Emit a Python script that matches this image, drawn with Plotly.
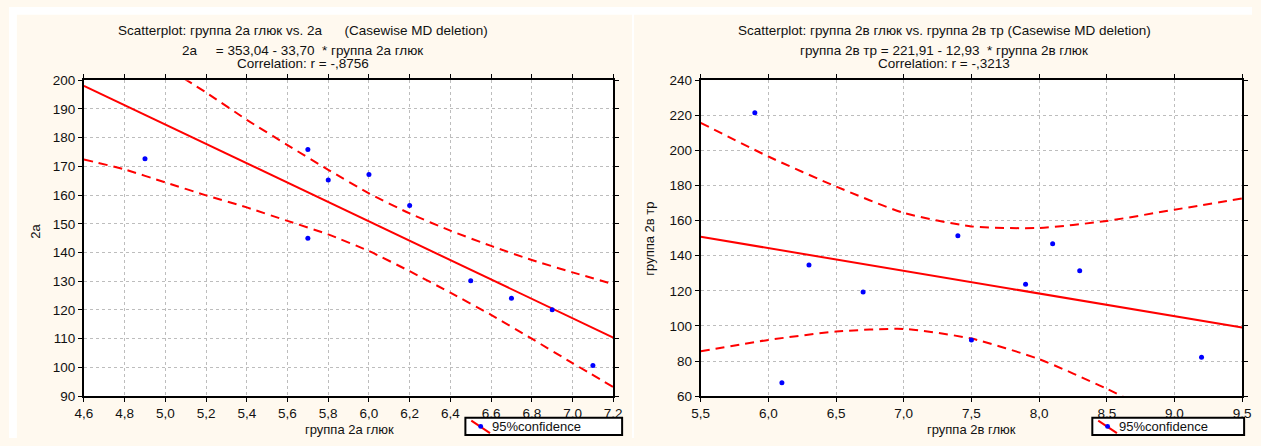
import plotly.graph_objects as go

# ---------------- data ----------------
left_x = [4.9, 5.7, 5.7, 5.8, 6.0, 6.2, 6.5, 6.7, 6.9, 7.1]
left_y = [172.6, 175.9, 145.0, 165.2, 167.2, 156.4, 130.2, 124.1, 120.1, 100.7]
left_intercept, left_slope = 353.04, -33.70
left_band_x = [4.6, 4.8, 5.0, 5.2, 5.4, 5.6, 5.8, 6.0, 6.2, 6.4, 6.6, 6.8, 7.0, 7.2]
left_upper = [223.6, 213.8, 204.7, 195.7, 186.2, 177.4, 168.8, 160.6, 153.6, 147.6, 142.3, 137.4, 133.1, 129.0]
left_lower = [172.4, 168.9, 164.4, 159.9, 155.7, 151.0, 146.3, 140.5, 133.5, 126.0, 118.3, 110.0, 101.5, 93.2]

right_x = [5.9, 6.1, 6.3, 6.7, 7.4, 7.5, 7.9, 8.1, 8.3, 9.2]
right_y = [221.5, 67.7, 134.7, 119.3, 151.4, 92.0, 123.7, 146.8, 131.4, 82.1]
right_intercept, right_slope = 221.91, -12.93
right_band_x = [5.5, 6.0, 6.5, 7.0, 7.5, 8.0, 8.5, 9.0, 9.5]
right_upper = [215.7, 196.5, 179.4, 164.4, 156.7, 155.8, 159.8, 166.2, 172.6]
right_lower = [85.6, 92.0, 96.8, 98.3, 92.8, 81.1, 64.2, 44.8, 25.6]

left_xrange = [4.6, 7.2]
left_yrange = [90, 200]
right_xrange = [5.5, 9.5]
right_yrange = [60, 240]

left_titles = ["Scatterplot: группа 2а глюк vs. 2а      (Casewise MD deletion)",
               "2а     = 353,04 - 33,70  * группа 2а глюк",
               "Correlation: r = -,8756"]
right_titles = ["Scatterplot: группа 2в глюк vs. группа 2в тр (Casewise MD deletion)",
                "группа 2в тр = 221,91 - 12,93  * группа 2в глюк",
                "Correlation: r = -,3213"]
left_xlabel, left_ylabel = "группа 2а глюк", "2а"
right_xlabel, right_ylabel = "группа 2в глюк", "группа 2в тр"
legend_text = "95%confidence"

# ---------------- layout helpers ----------------
W, H = 1261, 446
def px(x):
    return x / W
def py(y):
    return 1 - y / H

FONT = "Liberation Sans, Arial, sans-serif"
RED = "#FF0000"
BLUE = "#0000FF"
CREAM = "#FFF9EF"

fig = go.Figure()

def add_panel(xs, ys, a, b, bx, up, lo, xr, xa, ya):
    line_x = list(xr)
    line_y = [a + b * v for v in line_x]
    for band in (up, lo):
        fig.add_trace(go.Scatter(x=bx, y=band, mode="lines", xaxis=xa, yaxis=ya,
                                 line=dict(color=RED, width=2, dash="9px,6px", shape="spline", smoothing=0.6),
                                 showlegend=False, hoverinfo="skip"))
    fig.add_trace(go.Scatter(x=line_x, y=line_y, mode="lines", xaxis=xa, yaxis=ya,
                             line=dict(color=RED, width=2), showlegend=False))
    fig.add_trace(go.Scatter(x=xs, y=ys, mode="markers", xaxis=xa, yaxis=ya,
                             marker=dict(color=BLUE, size=5), showlegend=False))

add_panel(left_x, left_y, left_intercept, left_slope, left_band_x, left_upper, left_lower,
          left_xrange, "x", "y")
add_panel(right_x, right_y, right_intercept, right_slope, right_band_x, right_upper, right_lower,
          right_xrange, "x2", "y2")

plot_top, plot_bot = 75.7, 402.7
ydom = [py(plot_bot), py(plot_top)]

axis_common = dict(showline=True, linecolor="black", linewidth=2, mirror="ticks",
                   ticks="outside", ticklen=4, tickcolor="black", tickwidth=1,
                   showgrid=True, gridcolor="#BDBDBD", griddash="dot", gridwidth=1,
                   zeroline=False, ticklabeloverflow="allow",
                   tickfont=dict(family=FONT, size=13.5, color="#111"))

fig.update_layout(
    width=W, height=H, margin=dict(l=0, r=0, t=0, b=0),
    paper_bgcolor=CREAM, plot_bgcolor="white",
    separators=", ",
    xaxis=dict(domain=[px(76), px(613)], range=left_xrange, dtick=0.2, tick0=4.6,
               tickformat=".1f", anchor="y", **axis_common),
    yaxis=dict(domain=ydom, range=left_yrange, dtick=10, tick0=90, anchor="x", **axis_common),
    xaxis2=dict(domain=[px(701.7), px(1251)], range=right_xrange, dtick=0.5, tick0=5.5,
                tickformat=".1f", anchor="y2", **axis_common),
    yaxis2=dict(domain=ydom, range=right_yrange, dtick=20, tick0=60, anchor="x2", **axis_common),
    showlegend=False,
)

shapes = []
annotations = []
# white margins around / between the two cream panels
for (x0, x1, y0, y1) in [(0, W, 0, 8), (0, 8, 0, H), (632, 634, 0, H)]:
    shapes.append(dict(type="rect", xref="paper", yref="paper", x0=px(x0), x1=px(x1),
                       y0=py(y1), y1=py(y0), fillcolor="white", line=dict(width=0), layer="below"))

def titles(lines, cx):
    ys = [24, 45, 58.5]
    for t, y in zip(lines, ys):
        annotations.append(dict(text=t, xref="paper", yref="paper", x=px(cx), y=py(y),
                                xanchor="center", yanchor="middle", showarrow=False,
                                font=dict(family=FONT, size=13.5, color="#111")))

titles(left_titles, 298)
titles(right_titles, 949)

# axis titles
annotations.append(dict(text=left_xlabel, xref="paper", yref="paper", x=px(345), y=py(437),
                        xanchor="center", yanchor="middle", showarrow=False,
                        font=dict(family=FONT, size=13, color="#111")))
annotations.append(dict(text=right_xlabel, xref="paper", yref="paper", x=px(976), y=py(437),
                        xanchor="center", yanchor="middle", showarrow=False,
                        font=dict(family=FONT, size=13, color="#111")))
annotations.append(dict(text=left_ylabel, xref="paper", yref="paper", x=px(27), y=py(232),
                        xanchor="center", yanchor="middle", showarrow=False, textangle=-90,
                        font=dict(family=FONT, size=13, color="#111")))
annotations.append(dict(text=right_ylabel, xref="paper", yref="paper", x=px(650), y=py(240),
                        xanchor="center", yanchor="middle", showarrow=False, textangle=-90,
                        font=dict(family=FONT, size=13, color="#111")))

def legend_box(x0, x1, y0, y1):
    shapes.append(dict(type="rect", xref="paper", yref="paper", x0=px(x0), x1=px(x1),
                       y0=py(y1), y1=py(y0), fillcolor="white",
                       line=dict(color="black", width=2)))
    shapes.append(dict(type="line", xref="paper", yref="paper", x0=px(x0 + 6), x1=px(x0 + 25),
                       y0=py(y0 + 3), y1=py(y1 - 2), line=dict(color=RED, width=2)))
    shapes.append(dict(type="circle", xref="paper", yref="paper", x0=px(x0 + 13), x1=px(x0 + 18),
                       y0=py(y0 + 11.5), y1=py(y0 + 6.5), fillcolor=BLUE, line=dict(width=0)))
    annotations.append(dict(text=legend_text, xref="paper", yref="paper", x=px(x0 + 25),
                            y=py((y0 + y1) / 2), xanchor="left", yanchor="middle",
                            showarrow=False, font=dict(family=FONT, size=13, color="#111")))

legend_box(463, 622, 425, 443)
legend_box(1099, 1253, 425, 443)

fig.update_layout(shapes=shapes, annotations=annotations)
fig.write_html("out.html", config={"displayModeBar": False},
               post_script="document.body.style.margin='0px';document.body.style.overflow='hidden';")
